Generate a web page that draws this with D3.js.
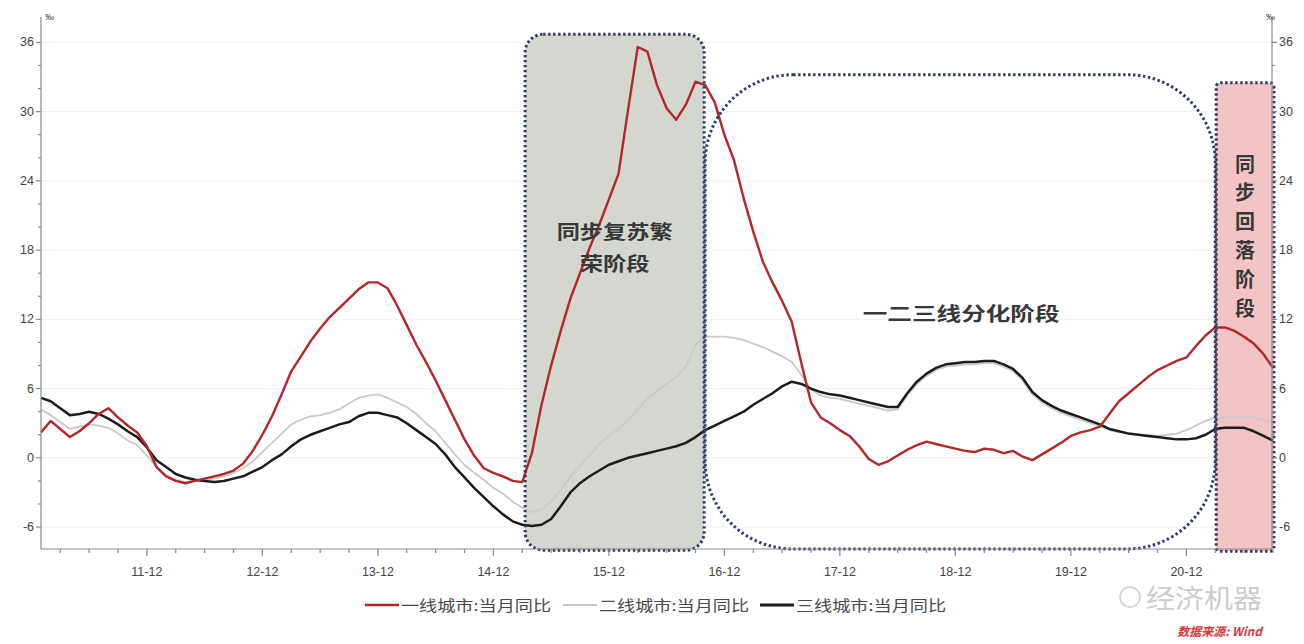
<!DOCTYPE html>
<html><head><meta charset="utf-8">
<script src="https://cdn.jsdelivr.net/npm/d3@7"></script>
<style>
body{margin:0;background:#fff;}
svg{display:block;font-family:"Liberation Sans",Arial,sans-serif;}
</style>
</head><body>
<svg id="c" width="1304" height="644"></svg>
<script>
// ---- data (monthly, index 0 = 2011-01, last = 2021-09) ----
const monthCount = 129;
const tier1 = [
 2.2,3.2,2.5,1.8,2.3,3.0,3.8,4.3,3.5,2.8,
 2.2,1.0,-0.8,-1.6,-2.0,-2.2,-2.0,-1.8,-1.6,-1.4,
 -1.1,-0.5,0.6,2.0,3.6,5.5,7.5,8.8,10.1,11.2,
 12.2,13.0,13.8,14.6,15.2,15.2,14.7,13.2,11.5,9.8,
 8.3,6.7,5.0,3.3,1.6,0.2,-0.9,-1.3,-1.6,-2.0,
 -2.1,0.4,4.6,8.0,11.0,13.8,16.0,18.2,20.2,22.4,
 24.6,30.2,35.6,35.2,32.3,30.3,29.3,30.6,32.6,32.3,
 30.8,28.0,25.8,22.5,19.6,17.0,15.2,13.6,11.8,8.2,
 4.8,3.5,3.0,2.4,1.9,1.0,-0.1,-0.6,-0.3,0.2,
 0.7,1.1,1.4,1.2,1.0,0.8,0.6,0.5,0.8,0.7,
 0.4,0.6,0.1,-0.2,0.3,0.8,1.3,1.9,2.2,2.4,
 2.7,3.8,4.9,5.6,6.3,7.0,7.6,8.0,8.4,8.7,
 9.7,10.6,11.3,11.3,11.0,10.5,9.9,9.0,7.8
];
const tier2 = [
 4.2,3.7,3.1,2.5,2.7,2.9,2.8,2.6,2.1,1.5,
 1.1,0.2,-0.8,-1.5,-1.9,-2.1,-2.0,-1.9,-1.8,-1.6,
 -1.3,-0.9,-0.3,0.5,1.3,2.1,2.9,3.3,3.6,3.7,
 3.9,4.2,4.7,5.2,5.4,5.5,5.2,4.8,4.4,3.8,
 3.0,2.3,1.3,0.3,-0.6,-1.3,-1.9,-2.6,-3.1,-3.8,
 -4.3,-4.7,-4.5,-3.8,-2.8,-1.6,-0.7,0.2,1.2,1.9,
 2.5,3.3,4.2,5.1,5.8,6.4,7.0,7.9,9.8,10.5,
 10.5,10.5,10.4,10.2,9.9,9.6,9.2,8.8,8.3,7.2,
 5.9,5.4,5.2,5.1,4.9,4.7,4.5,4.3,4.1,4.2,
 5.4,6.4,7.1,7.6,7.9,8.0,8.1,8.1,8.2,8.2,
 7.9,7.5,6.7,5.5,4.8,4.3,3.9,3.6,3.3,3.0,
 2.7,2.4,2.2,2.1,2.0,2.0,1.9,2.0,2.1,2.4,
 2.8,3.2,3.5,3.5,3.5,3.5,3.5,3.3,3.1
];
const tier3 = [
 5.2,4.9,4.3,3.7,3.8,4.0,3.8,3.4,2.9,2.3,
 1.8,0.9,-0.2,-0.8,-1.4,-1.7,-1.9,-2.0,-2.1,-2.0,
 -1.8,-1.6,-1.2,-0.8,-0.2,0.3,1.0,1.6,2.0,2.3,
 2.6,2.9,3.1,3.6,3.9,3.9,3.7,3.5,3.0,2.4,
 1.8,1.2,0.3,-0.8,-1.7,-2.6,-3.4,-4.2,-4.9,-5.5,
 -5.8,-5.9,-5.8,-5.3,-4.2,-3.0,-2.2,-1.6,-1.1,-0.6,
 -0.3,0.0,0.2,0.4,0.6,0.8,1.0,1.3,1.8,2.4,
 2.8,3.2,3.6,4.0,4.6,5.1,5.6,6.2,6.6,6.4,
 6.0,5.7,5.5,5.4,5.2,5.0,4.8,4.6,4.4,4.4,
 5.6,6.6,7.3,7.8,8.1,8.2,8.3,8.3,8.4,8.4,
 8.1,7.7,6.9,5.7,5.0,4.5,4.1,3.8,3.5,3.2,
 2.9,2.5,2.3,2.1,2.0,1.9,1.8,1.7,1.6,1.6,
 1.7,2.0,2.5,2.6,2.6,2.6,2.3,1.9,1.5
];
const seriesNames = ["一线城市:当月同比","二线城市:当月同比","三线城市:当月同比"];
const xTickLabels = ["11-12","12-12","13-12","14-12","15-12","16-12","17-12","18-12","19-12","20-12"];
const xTickIndex = [11,23,35,47,59,71,83,95,107,119];
const yTickValues = [-6,0,6,12,18,24,30,36];
const phaseLabels = ["同步复苏繁|荣阶段","一二三线分化阶段","同步回落阶段"];
// phase extents in month index / value units
const phaseX0 = [50.3, 69.0, 122.1];
const phaseX1 = [68.9, 122.0, 128.1];
const phaseTop = [36.7, 33.2, 32.5];
const phaseBottom = [-8.0, -7.9, -8.1];

// ---- layout ----
const svg = d3.select("#c");
const W = 1304, H = 644;
const mLeft = 41, mRight = 1272, mTop = 17, mBottom = 549;
const x = d3.scaleLinear().domain([0, monthCount - 1]).range([mLeft, 1273]);
const y = d3.scaleLinear().domain([-7.9, 38.2]).range([mBottom, mTop]);

svg.append("rect").attr("width", W).attr("height", H).attr("fill", "#fff");
const gGrid = svg.append("g");
const gFill = svg.append("g");
const gLines = svg.append("g");
const gBorder = svg.append("g");
const gAxis = svg.append("g");
const gText = svg.append("g");

// faint grid
gGrid.selectAll("line").data(yTickValues).join("line")
  .attr("x1", mLeft).attr("x2", mRight)
  .attr("y1", d => y(d)).attr("y2", d => y(d))
  .attr("stroke", "#f1f1f1").attr("stroke-width", 1);

// phase boxes
const fills = ["#d4d7cf", "none", "#f3c4c6"];
const radii = [18, 88, 4];
phaseX0.forEach((d, i) => {
  const rx = x(phaseX0[i]), ry = y(phaseTop[i]);
  const rw = x(phaseX1[i]) - rx, rh = y(phaseBottom[i]) - ry;
  if (fills[i] !== "none") {
    gFill.append("rect").attr("x", rx).attr("y", ry).attr("width", rw).attr("height", rh)
      .attr("rx", radii[i]).attr("ry", radii[i]).attr("fill", fills[i]);
  }
  gBorder.append("rect").attr("x", rx).attr("y", ry).attr("width", rw).attr("height", rh)
    .attr("rx", radii[i]).attr("ry", radii[i])
    .attr("fill", "none").attr("stroke", "#2e3b66")
    .attr("stroke-width", 3).attr("stroke-dasharray", "2.4 2.6");
});

// lines
const line = d3.line().x((d, i) => x(i)).y(d => y(d));
gLines.append("path").datum(tier2).attr("d", line).attr("fill", "none")
  .attr("stroke", "#c9c9c9").attr("stroke-width", 1.8).attr("stroke-linejoin", "round");
gLines.append("path").datum(tier3).attr("d", line).attr("fill", "none")
  .attr("stroke", "#1c1c1c").attr("stroke-width", 2.5).attr("stroke-linejoin", "round");
gLines.append("path").datum(tier1).attr("d", line).attr("fill", "none")
  .attr("stroke", "#b3262c").attr("stroke-width", 2.4).attr("stroke-linejoin", "round");

// axes
const ax = gAxis.attr("stroke", "#8a8a8a").attr("stroke-width", 1.2);
ax.append("line").attr("x1", mLeft).attr("x2", mLeft).attr("y1", mTop).attr("y2", mBottom);
ax.append("line").attr("x1", mRight).attr("x2", mRight).attr("y1", mTop).attr("y2", mBottom);
ax.append("line").attr("x1", mLeft).attr("x2", mRight).attr("y1", mBottom).attr("y2", mBottom);

const yMinor = d3.range(-6, 38, 2);
ax.append("g").selectAll("line").data(yMinor).join("line")
  .attr("x1", d => yTickValues.includes(d) ? mLeft - 5 : mLeft - 3).attr("x2", mLeft)
  .attr("y1", d => y(d)).attr("y2", d => y(d));
ax.append("g").selectAll("line").data(yMinor).join("line")
  .attr("x1", mRight).attr("x2", d => yTickValues.includes(d) ? mRight + 5 : mRight + 3)
  .attr("y1", d => y(d)).attr("y2", d => y(d));
const xMinor = d3.range(2, monthCount, 3);
ax.append("g").selectAll("line").data(xMinor).join("line")
  .attr("x1", d => x(d)).attr("x2", d => x(d))
  .attr("y1", mBottom).attr("y2", d => xTickIndex.includes(d) ? mBottom + 7 : mBottom + 4);

const tl = gText.append("g").attr("fill", "#444").attr("font-size", 12.5);
tl.append("g").selectAll("text").data(yTickValues).join("text")
  .attr("x", mLeft - 7).attr("y", d => y(d) + 4).attr("text-anchor", "end").text(d => d);
tl.append("g").selectAll("text").data(yTickValues).join("text")
  .attr("x", mRight + 7).attr("y", d => y(d) + 4).attr("text-anchor", "start").text(d => d);
tl.append("g").selectAll("text").data(xTickIndex).join("text")
  .attr("x", d => x(d)).attr("y", mBottom + 27).attr("text-anchor", "middle")
  .text((d, i) => xTickLabels[i]);
tl.append("text").attr("x", mLeft + 4).attr("y", mTop + 3).attr("font-size", 9).text("‰");
tl.append("text").attr("x", mRight - 6).attr("y", mTop + 3).attr("font-size", 9).text("‰");

// phase labels
const cjk = '"Noto Sans CJK SC","Noto Sans",sans-serif';
const lab = gText.append("g").attr("font-family", cjk).attr("font-weight", 700).attr("fill", "#383838");
const p0 = phaseLabels[0].split("|");
lab.append("text").attr("x", x(59.6)).attr("y", y(19.0)).attr("text-anchor", "middle")
  .attr("font-size", 19).attr("textLength", 116).attr("lengthAdjust", "spacingAndGlyphs").text(p0[0]);
lab.append("text").attr("x", x(59.6)).attr("y", y(16.2)).attr("text-anchor", "middle")
  .attr("font-size", 19).attr("textLength", 70).attr("lengthAdjust", "spacingAndGlyphs").text(p0[1]);
lab.append("text").attr("x", x(95.6)).attr("y", y(11.9)).attr("text-anchor", "middle")
  .attr("font-size", 19).attr("textLength", 197).attr("lengthAdjust", "spacingAndGlyphs").text(phaseLabels[1]);
lab.append("g").selectAll("text").data(Array.from(phaseLabels[2])).join("text")
  .attr("x", x(125.1)).attr("y", (d, i) => y(24.8 - i * 2.5)).attr("text-anchor", "middle")
  .attr("font-size", 20).text(d => d);

// legend
const colors = ["#b3262c", "#c9c9c9", "#1c1c1c"];
const widths = [2.6, 1.8, 2.8];
const legX = [365, 563, 760];
const leg = gText.append("g").attr("font-family", cjk).attr("font-size", 15).attr("fill", "#4a4a4a");
seriesNames.forEach((n, i) => {
  leg.append("line").attr("x1", legX[i]).attr("x2", legX[i] + 34).attr("y1", 605).attr("y2", 605)
    .attr("stroke", colors[i]).attr("stroke-width", widths[i]);
  leg.append("text").attr("x", legX[i] + 36).attr("y", 611)
    .attr("textLength", 150).attr("lengthAdjust", "spacingAndGlyphs").text(n);
});

// watermark & source
const wm = gText.append("g");
wm.append("circle").attr("cx", 1130).attr("cy", 597).attr("r", 10).attr("fill", "none")
  .attr("stroke", "#cfcfcf").attr("stroke-width", 1.5);
wm.append("text").attr("x", 1146).attr("y", 608).attr("font-family", cjk).attr("font-size", 26)
  .attr("fill", "#cccccc").attr("textLength", 116).attr("lengthAdjust", "spacingAndGlyphs").text("经济机器");
wm.append("text").attr("x", 1262).attr("y", 636).attr("text-anchor", "end").attr("font-family", cjk)
  .attr("font-size", 12).attr("font-style", "italic").attr("font-weight", 700).attr("fill", "#d9363e")
  .text("数据来源:  Wind");
</script>
</body></html>
